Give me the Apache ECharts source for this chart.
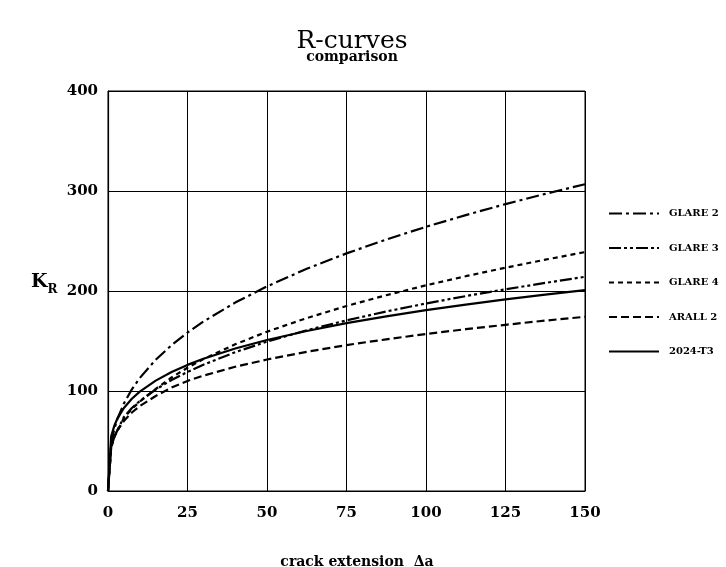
<!DOCTYPE html>
<html>
<head>
<meta charset="utf-8">
<script src="https://cdn.jsdelivr.net/npm/echarts@6/dist/echarts.min.js"></script>
<style>
  html, body { margin: 0; padding: 0; background: #fff; }
  #chart { width: 726px; height: 567px; }
</style>
</head>
<body>
<div id="chart"></div>
<script>
// crack extension (x) sample points
const crackExt = [0, 1, 2, 3, 5, 7.5, 10, 15, 20, 25, 30, 40, 50, 62.5, 75, 87.5, 100, 112.5, 125, 137.5, 150];

// K_R values
const glare2 = [0, 48.3, 62.4, 72.5, 87.5, 101.6, 113.0, 131.2, 145.9, 158.4, 169.4, 188.4, 204.6, 222.2, 237.6, 251.5, 264.2, 275.9, 286.9, 297.1, 306.8];
const glare3 = [0, 45, 55, 61, 74, 83, 90, 101.5, 111, 119.0, 126.3, 138.8, 149.4, 160.7, 170.6, 179.5, 187.5, 194.9, 201.7, 208.1, 214.2];
const glare4 = [0, 43, 54, 60, 73, 82, 89.5, 102, 113.5, 123.3, 131.9, 146.7, 159.3, 172.9, 185.0, 195.8, 205.7, 214.8, 223.3, 231.3, 238.9];
const arall2 = [0, 44, 54, 61, 70, 78.5, 85, 95, 103.5, 110.1, 115.4, 124.2, 131.5, 139.2, 145.9, 151.7, 157.0, 161.8, 166.2, 170.4, 174.2];
const t3 = [0, 54.6, 65.4, 72.7, 83.0, 92.2, 99.4, 110.4, 119.0, 126.1, 132.2, 142.5, 151.0, 160.0, 167.8, 174.6, 180.8, 186.4, 191.6, 196.4, 200.9];

const xTicks = [0, 25, 50, 75, 100, 125, 150];
const yTicks = [0, 100, 200, 300, 400];

const serif = 'DejaVu Serif';

function pairs(ys) {
    return crackExt.map(function (x, i) { return [x, ys[i]]; });
}

function curve(name, ys, dash) {
    return {
        name: name,
        type: 'line',
        data: pairs(ys),
        symbol: 'none',
        smooth: false,
        lineStyle: { color: '#000', width: 2.2, type: dash },
        itemStyle: { color: '#000' }
    };
}

const chart = echarts.init(document.getElementById('chart'));
chart.setOption({
    animation: false,
    backgroundColor: '#fff',
    title: [
        {
            text: 'R-curves',
            left: 347, top: 24, textAlign: 'center',
            textStyle: { fontFamily: serif, fontSize: 25, fontWeight: 'normal', color: '#000' }
        },
        {
            text: 'comparison',
            left: 347, top: 45, textAlign: 'center',
            textStyle: { fontFamily: serif, fontSize: 14, fontWeight: 'bold', color: '#000' }
        },
        {
            text: '{k|K}{r|R}',
            left: 26, top: 268,
            textStyle: {
                rich: {
                    k: { fontFamily: serif, fontSize: 19, color: '#000', verticalAlign: 'bottom' },
                    r: { fontFamily: serif, fontSize: 12, fontWeight: 'bold', color: '#000', verticalAlign: 'bottom', padding: [0, 0, -4, 0] }
                }
            }
        },
        {
            text: 'crack extension  Δa',
            left: 352, top: 550, textAlign: 'center',
            textStyle: { fontFamily: serif, fontSize: 14, fontWeight: 'bold', color: '#000' }
        }
    ],
    legend: {
        orient: 'vertical',
        left: 603, top: 200,
        itemWidth: 50, itemHeight: 14, itemGap: 17.5,
        itemStyle: { opacity: 0 },
        textStyle: { fontFamily: serif, fontSize: 10, fontWeight: 'bold', color: '#000', padding: [0, 0, 0, 5], lineHeight: 17 },
        data: ['GLARE 2', 'GLARE 3', 'GLARE 4', 'ARALL 2', '2024-T3']
    },
    grid: { left: 108, right: 141, top: 91, bottom: 76, show: true, borderColor: '#000', borderWidth: 1 },
    xAxis: {
        type: 'value', min: xTicks[0], max: xTicks[xTicks.length - 1], interval: 25,
        axisLine: { show: true, lineStyle: { color: '#000', width: 1.2 } },
        axisTick: { show: false },
        axisLabel: { fontFamily: serif, fontSize: 15, fontWeight: 'bold', color: '#000', margin: 15 },
        splitLine: { show: true, lineStyle: { color: '#000', width: 1 } }
    },
    yAxis: {
        type: 'value', min: yTicks[0], max: yTicks[yTicks.length - 1], interval: 100,
        axisLine: { show: true, lineStyle: { color: '#000', width: 1.2 } },
        axisTick: { show: false },
        axisLabel: { fontFamily: serif, fontSize: 15, fontWeight: 'bold', color: '#000', margin: 10 },
        splitLine: { show: true, lineStyle: { color: '#000', width: 1 } }
    },
    series: [
        curve('GLARE 2', glare2, [13, 4, 3, 4]),
        curve('GLARE 3', glare3, [12, 3, 3, 3, 3, 3]),
        curve('GLARE 4', glare4, [5, 4]),
        curve('ARALL 2', arall2, [8, 4]),
        curve('2024-T3', t3, 'solid')
    ]
});
</script>
</body>
</html>
